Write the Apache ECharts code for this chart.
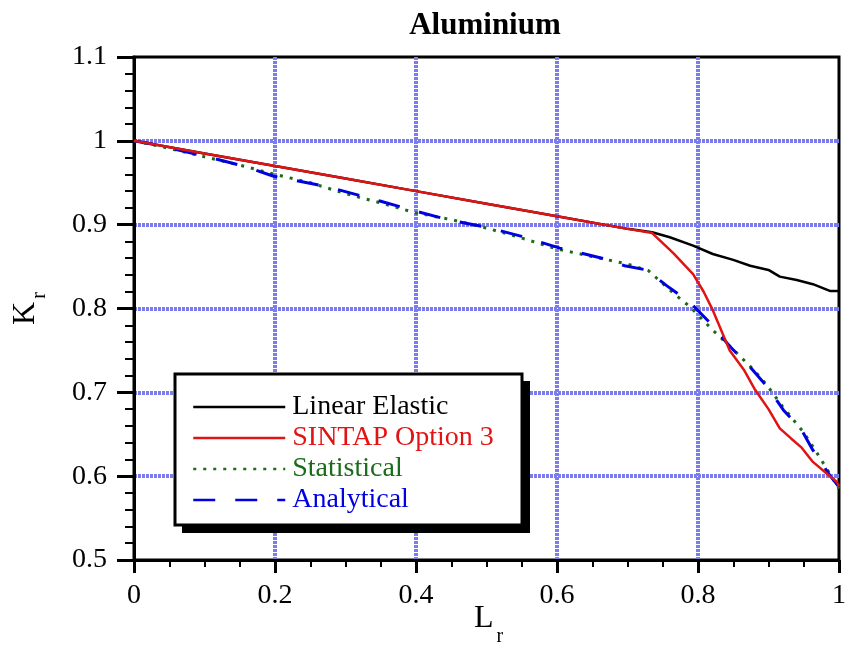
<!DOCTYPE html>
<html>
<head>
<meta charset="utf-8">
<title>Aluminium</title>
<script src="https://cdn.jsdelivr.net/npm/echarts@6/dist/echarts.min.js"></script>
<style>
  html, body { margin: 0; padding: 0; background: #fff; }
  #chart { width: 851px; height: 648px; }
</style>
</head>
<body>
<div id="chart"></div>
<script>
// curve data: [Lr, Kr]
const linearElastic = [
  [0, 1.0], [0.1, 0.985], [0.2, 0.97], [0.3, 0.955], [0.4, 0.94], [0.5, 0.925],
  [0.6, 0.91], [0.7, 0.895], [0.735, 0.891], [0.76, 0.885], [0.793, 0.875],
  [0.821, 0.865], [0.85, 0.858], [0.874, 0.851], [0.9, 0.846], [0.916, 0.838],
  [0.94, 0.834], [0.963, 0.829], [0.987, 0.821], [1.0, 0.821]
];
const sintapOption3 = [
  [0, 1.0], [0.1, 0.985], [0.2, 0.97], [0.3, 0.955], [0.4, 0.94], [0.5, 0.925],
  [0.6, 0.91], [0.7, 0.895], [0.735, 0.89], [0.765, 0.866], [0.793, 0.841],
  [0.808, 0.82], [0.821, 0.798], [0.845, 0.75], [0.865, 0.727], [0.881, 0.703],
  [0.9, 0.68], [0.916, 0.657], [0.932, 0.645], [0.947, 0.634], [0.963, 0.617],
  [0.98, 0.605], [0.997, 0.593], [1.0, 0.588]
];
const statistical = [
  [0, 1.0], [0.05, 0.991], [0.1, 0.981], [0.15, 0.971], [0.2, 0.96], [0.25, 0.95],
  [0.3, 0.937], [0.35, 0.926], [0.4, 0.914], [0.45, 0.906], [0.5, 0.896],
  [0.55, 0.884], [0.6, 0.871], [0.65, 0.862], [0.7, 0.853], [0.73, 0.845],
  [0.76, 0.822], [0.79, 0.801], [0.82, 0.775], [0.85, 0.751], [0.88, 0.726],
  [0.9, 0.706], [0.92, 0.683], [0.95, 0.652], [0.97, 0.626], [1.0, 0.585]
];
const analytical = [
  [0, 1.0], [0.033, 0.995], [0.094, 0.983], [0.155, 0.97], [0.197, 0.958],
  [0.275, 0.945], [0.35, 0.928], [0.4, 0.916], [0.45, 0.905], [0.5, 0.897],
  [0.55, 0.886], [0.604, 0.872], [0.635, 0.866], [0.668, 0.859], [0.696, 0.851],
  [0.727, 0.846], [0.756, 0.827], [0.789, 0.807], [0.817, 0.783], [0.845, 0.755],
  [0.874, 0.73], [0.9, 0.705], [0.921, 0.679], [0.947, 0.655], [0.963, 0.631],
  [0.987, 0.601], [1.0, 0.587]
];
const seriesNames = ["Linear Elastic", "SINTAP Option 3", "Statistical", "Analytical"];
const seriesColors = ["#000000", "#e01414", "#1a6b1a", "#0000e0"];

const FONT = "Liberation Serif";

function createChart(dom) {
  let myChart = echarts.init(dom);

  // 网格线：蓝色点线（首尾不画，交给边框）
  let gridLine = {
    show: true,
    showMinLine: false,
    showMaxLine: false,
    lineStyle: { color: "#7c7cec", width: 4, type: [3, 1] }
  };
  // 下标样式（L_r, K_r）
  let nameRich = {
    m: { fontFamily: FONT, fontSize: 32, color: "#000" },
    s: { fontFamily: FONT, fontSize: 20, color: "#000", padding: [28, 0, 0, 3] }
  };
  let xNameRich = {
    m: { fontFamily: FONT, fontSize: 32, color: "#000" },
    s: { fontFamily: FONT, fontSize: 20, color: "#000", padding: [36, 0, 0, 3] }
  };

  let option = {
    animation: false,
    backgroundColor: "#fff",
    title: {
      text: "Aluminium",
      left: 480,
      top: 5,
      textAlign: "center",
      textStyle: { fontFamily: FONT, fontSize: 31, fontWeight: "bold", color: "#000" }
    },
    grid: {
      left: 134, right: 12, top: 57, bottom: 88,
      outerBoundsMode: "none",
      containLabel: false,
      show: true,
      borderColor: "#000",
      borderWidth: 3
    },
    graphic: [
      // 图例外框 + 阴影
      {
        type: "rect", z: 90,
        shape: { x: 182, y: 381, width: 348, height: 152 },
        style: { fill: "#000" }
      },
      {
        type: "rect", z: 91,
        shape: { x: 175, y: 374, width: 347, height: 151 },
        style: { fill: "#fff", stroke: "#000", lineWidth: 3 }
      },
      // x 轴标题 L_r
      {
        type: "text", z: 100,
        x: 474, y: 591,
        style: { text: "{m|L}{s|r}", rich: xNameRich }
      }
    ],
    legend: {
      orient: "vertical",
      left: 176,
      top: 383,
      z: 100,
      padding: [10, 10, 10, 16],
      itemGap: 3,
      itemWidth: 92,
      itemHeight: 14,
      itemStyle: { opacity: 0, borderWidth: 0 },
      lineStyle: { width: 2.5 },
      textStyle: { fontFamily: FONT, fontSize: 28, padding: [0, 0, 0, 2] },
      data: seriesNames.map(function (n, i) {
        return { name: n, textStyle: { color: seriesColors[i] } };
      })
    },
    xAxis: {
      type: "value",
      min: 0, max: 1, interval: 0.2,
      axisLine: { show: true, onZero: false, lineStyle: { color: "#000", width: 3 } },
      axisTick: { show: true, inside: false, length: 13, lineStyle: { color: "#000", width: 3 } },
      minorTick: { show: true, splitNumber: 4, length: 7, lineStyle: { color: "#000", width: 2 } },
      axisLabel: {
        margin: 22, color: "#000", fontFamily: FONT, fontSize: 28,
        formatter: function (v) { return String(+v.toFixed(1)); }
      },
      splitLine: gridLine
    },
    yAxis: {
      type: "value",
      min: 0.5, max: 1.1, interval: 0.1,
      name: "{m|K}{s|r}",
      nameLocation: "middle",
      nameGap: 84,
      nameRotate: 90,
      nameTextStyle: { rich: nameRich },
      axisLine: { show: true, onZero: false, lineStyle: { color: "#000", width: 3 } },
      axisTick: { show: true, inside: false, length: 17, lineStyle: { color: "#000", width: 3 } },
      minorTick: { show: true, splitNumber: 5, length: 9, lineStyle: { color: "#000", width: 2 } },
      axisLabel: {
        margin: 27, color: "#000", fontFamily: FONT, fontSize: 28,
        formatter: function (v) { return String(+v.toFixed(1)); }
      },
      splitLine: gridLine
    },
    series: [
      {
        name: seriesNames[0], type: "line", data: linearElastic, symbol: "none", z: 2,
        lineStyle: { color: seriesColors[0], width: 2.5 }, itemStyle: { color: seriesColors[0] }
      },
      {
        name: seriesNames[2], type: "line", data: statistical, symbol: "none", z: 3,
        lineStyle: { color: seriesColors[2], width: 3, type: [3, 7] }, itemStyle: { color: seriesColors[2] }
      },
      {
        name: seriesNames[3], type: "line", data: analytical, symbol: "none", z: 4,
        lineStyle: { color: seriesColors[3], width: 3, type: [22, 20] }, itemStyle: { color: seriesColors[3] }
      },
      {
        name: seriesNames[1], type: "line", data: sintapOption3, symbol: "none", z: 5,
        lineStyle: { color: seriesColors[1], width: 2.5 }, itemStyle: { color: seriesColors[1] }
      }
    ]
  };
  myChart.setOption(option);
  return myChart;
}

createChart(document.getElementById("chart"));
</script>
</body>
</html>
